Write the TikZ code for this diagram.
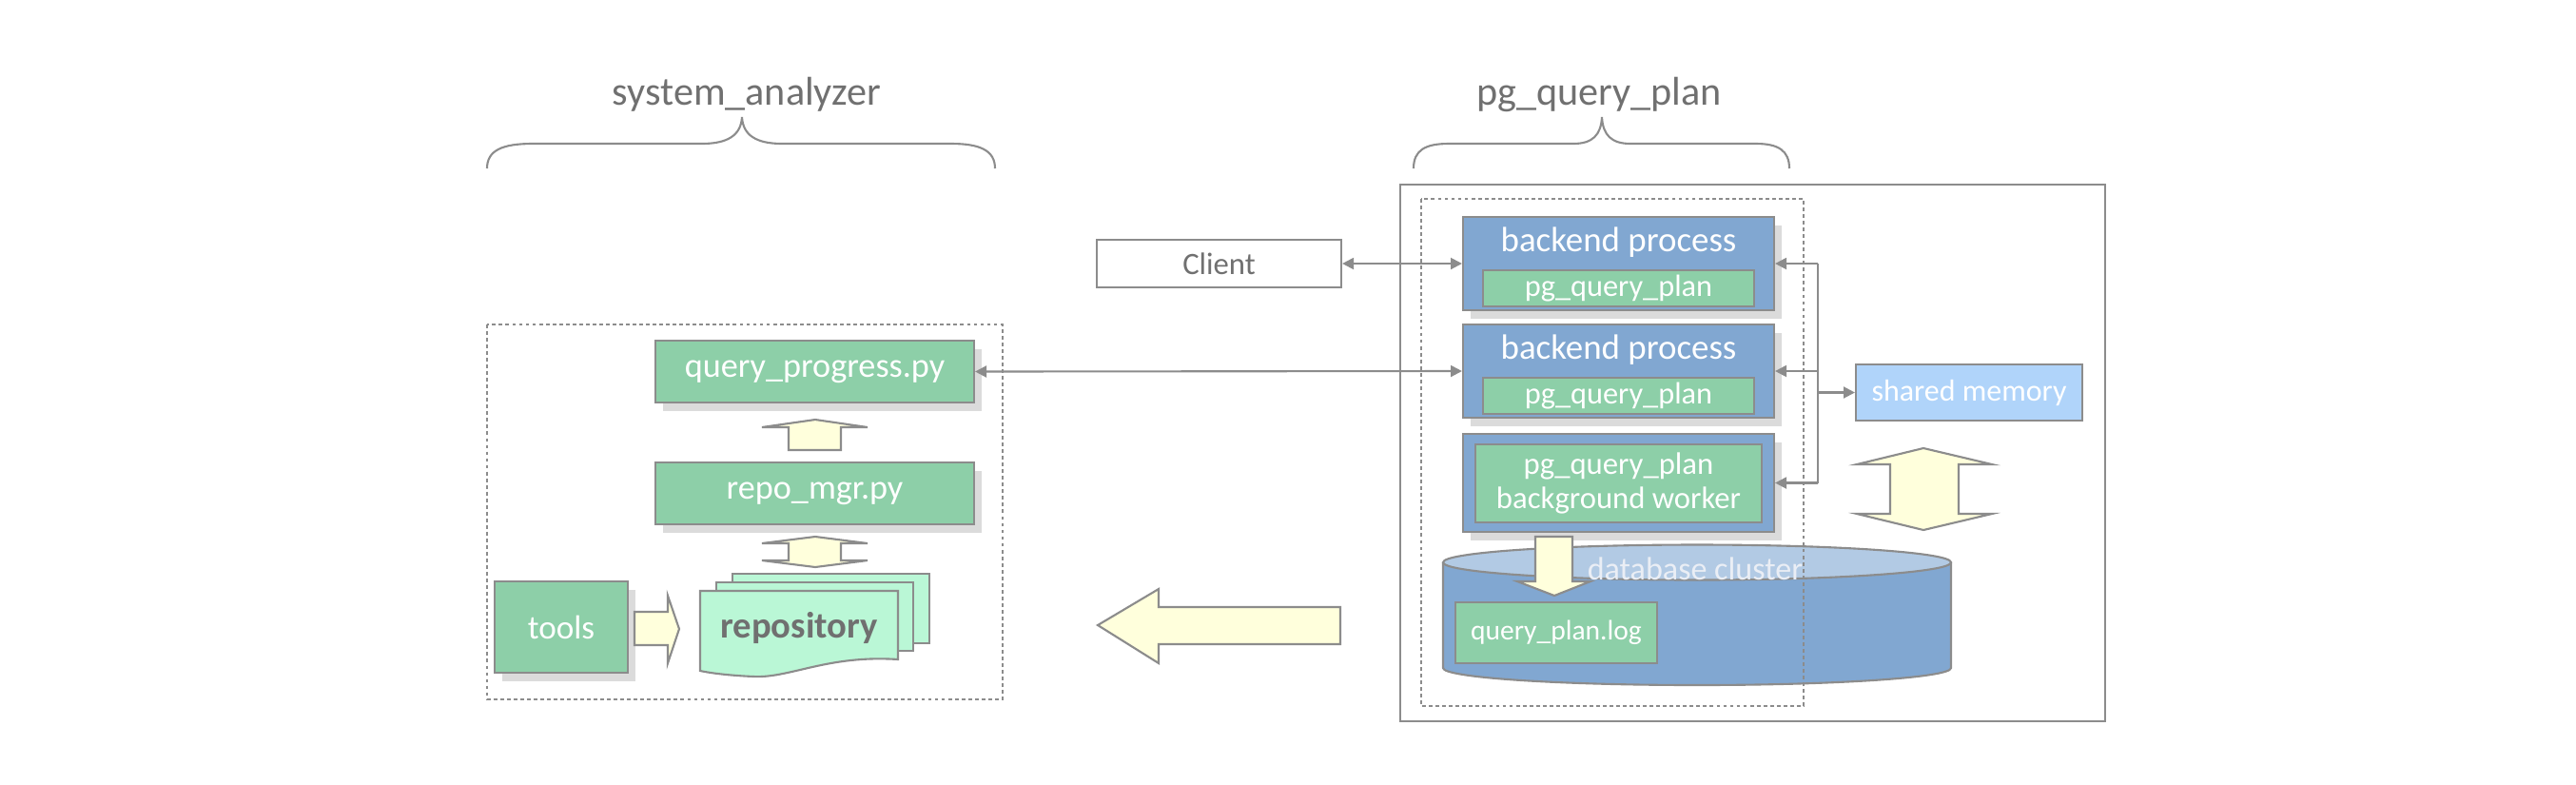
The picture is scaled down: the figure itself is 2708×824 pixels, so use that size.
\documentclass[tikz,border=0pt]{standalone}
\usepackage{fontspec}
\setmainfont{Carlito}
\usetikzlibrary{arrows.meta,shadows}

\definecolor{boxgreen}{RGB}{141,207,168}
\definecolor{repomint}{RGB}{186,247,214}
\definecolor{procblue}{RGB}{129,167,209}
\definecolor{shmblue}{RGB}{176,212,250}
\definecolor{dbtop}{RGB}{178,202,228}
\definecolor{dbtext}{RGB}{234,238,245}
\definecolor{arrowyellow}{RGB}{255,255,220}
\definecolor{linegray}{RGB}{140,140,140}
\definecolor{textgray}{RGB}{112,112,112}

\tikzset{
  greenbox/.style={draw=linegray, line width=0.6pt, fill=boxgreen, text=white, inner sep=0pt},
  procbox/.style={draw=linegray, line width=0.6pt, fill=procblue, inner sep=0pt, minimum width=32.7mm},
  shadowed/.style={drop shadow={shadow xshift=0.8mm, shadow yshift=-0.9mm, fill=black!14, opacity=1}},
  link/.style={draw=linegray, line width=0.6pt},
  blockarrow/.style={draw=linegray, line width=0.6pt, fill=arrowyellow},
  frame/.style={draw=linegray, line width=0.6pt},
  dashframe/.style={draw=linegray, line width=0.6pt, dash pattern=on 1.1pt off 0.9pt},
  curlybrace/.style={draw=linegray, line width=0.6pt},
  docsheet/.style={draw=linegray, line width=0.6pt, fill=repomint},
  title/.style={text=textgray, anchor=base, inner sep=0pt, font=\fontsize{12}{14}\selectfont},
  whitetext/.style={text=white, inner sep=0pt}
}

\begin{document}
\begin{tikzpicture}[x=0.1mm, y=-0.1mm, >={Triangle[length=3.4pt, width=3.4pt]}]
  \useasboundingbox (0,0) rectangle (2708,824);

  % Titles and braces
  \node[title] (satitle) at (785,110) {system\_analyzer};
  \node[title] (pgtitle) at (1681,110) {pg\_query\_plan};
  \draw[curlybrace] (512,177) .. controls (512,158) and (528,151) .. (560,151) -- (738,151)
    .. controls (765,151) and (779,142) .. (780,123) .. controls (781,142) and (795,151) .. (822,151)
    -- (1000,151) .. controls (1030,151) and (1046,158) .. (1046,177);
  \draw[curlybrace] (1486,177) .. controls (1486,158) and (1498,151) .. (1523,151) -- (1654,151)
    .. controls (1674,151) and (1683,142) .. (1684,123) .. controls (1685,142) and (1694,151) .. (1714,151)
    -- (1846,151) .. controls (1869,151) and (1881,158) .. (1881,177);

  % system_analyzer side
  \draw[dashframe] (512,341) rectangle (1054,735);
  \node[greenbox, shadowed, minimum width=33.5mm, minimum height=6.5mm, font=\fontsize{10.3}{12}\selectfont] (qprog) at (856.5,390.5) {query\_progress.py};
  \node[greenbox, shadowed, minimum width=33.5mm, minimum height=6.5mm, font=\fontsize{10.3}{12}\selectfont] (rmgr) at (856.5,518.5) {repo\_mgr.py};
  \node[greenbox, shadowed, minimum width=14mm, minimum height=9.6mm, font=\fontsize{10}{12}\selectfont] (tools) at (590,659) {tools};

  \draw[blockarrow] (829,473) -- (829,449) -- (801,449) -- (857,441) -- (912,449) -- (884,449) -- (884,473) -- cycle;
  \draw[blockarrow] (857,564) -- (912,571) -- (884,571) -- (884,589) -- (912,589) -- (857,596)
    -- (801,589) -- (829,589) -- (829,571) -- (801,571) -- cycle;
  \draw[blockarrow] (667,643) -- (702,643) -- (702,626) -- (714,661) -- (702,697) -- (702,678) -- (667,678) -- cycle;

  % repository stack
  \draw[docsheet] (770,603) rectangle (977,676);
  \draw[docsheet] (753,612) rectangle (960,684);
  \draw[docsheet] (736,621) -- (944,621) -- (944,693) .. controls (870,688) and (830,713) .. (792,711)
    .. controls (770,710) and (750,708) .. (736,705) -- cycle;
  \node[text=textgray, inner sep=0pt, font=\fontsize{11}{13}\selectfont\bfseries] (repo) at (840,660) {repository};

  % big arrow
  \draw[blockarrow] (1154,657) -- (1218,619) -- (1218,638) -- (1409,638) -- (1409,677) -- (1218,677) -- (1218,697) -- cycle;

  % pg_query_plan side
  \draw[frame] (1472,194) rectangle (2213,758);
  \node[draw=linegray, line width=0.6pt, fill=white, text=textgray, inner sep=0pt,
    minimum width=25.7mm, minimum height=5mm, font=\fontsize{9.3}{11}\selectfont] (client) at (1281.5,277) {Client};

  \node[procbox, shadowed, minimum height=9.8mm] (be1) at (1701.5,277) {};
  \node[whitetext, font=\fontsize{10.5}{12}\selectfont] (be1text) at (1701.5,255) {backend process};
  \node[greenbox, minimum width=28.5mm, minimum height=3.8mm, font=\fontsize{9.2}{11}\selectfont] (pg1) at (1701.5,303) {pg\_query\_plan};

  \node[procbox, shadowed, minimum height=9.8mm] (be2) at (1701.5,390) {};
  \node[whitetext, font=\fontsize{10.5}{12}\selectfont] (be2text) at (1701.5,368) {backend process};
  \node[greenbox, minimum width=28.5mm, minimum height=3.8mm, font=\fontsize{9.2}{11}\selectfont] (pg2) at (1701.5,416) {pg\_query\_plan};

  \node[procbox, shadowed, minimum height=10.3mm] (bgw) at (1701.5,507.5) {};
  \node[greenbox, minimum width=30.1mm, minimum height=8.2mm, align=center, font=\fontsize{9.3}{10}\selectfont] (pgbgw) at (1701.5,508) {pg\_query\_plan\\background worker};

  \node[draw=linegray, line width=0.6pt, fill=shmblue, text=white, inner sep=0pt,
    minimum width=23.8mm, minimum height=5.9mm, font=\fontsize{9.1}{11}\selectfont] (shm) at (2070,412.5) {shared memory};
  \draw[blockarrow] (2022,471) -- (2094,488) -- (2059,488) -- (2059,540) -- (2094,540) -- (2022,557)
    -- (1952,540) -- (1987,540) -- (1987,488) -- (1952,488) -- cycle;

  % database cluster
  \draw[frame, fill=procblue] (1517,591) -- (1517,702) arc[start angle=180, end angle=0, x radius=267, y radius=18] -- (2051,591);
  \draw[frame, fill=dbtop] (1784,591) ellipse[x radius=267, y radius=18.5];
  \draw[blockarrow] (1614,564) -- (1653,564) -- (1653,611) -- (1672,611) -- (1634,626) -- (1595,611) -- (1614,611) -- cycle;
  \node[text=dbtext, inner sep=0pt, font=\fontsize{9.7}{11}\selectfont] (dbtitle) at (1782,598) {database cluster};
  \node[greenbox, minimum width=21.2mm, minimum height=6.4mm, font=\fontsize{8.4}{10}\selectfont] (qlog) at (1636,665) {query\_plan.log};

  \draw[dashframe] (1494,209) rectangle (1896,742);

  % connectors
  \draw[link, <->] (client.east) -- (be1.west);
  \draw[link, <->] (qprog.east) -- (be2.west);
  \coordinate (bus) at (1911,412.5);
  \draw[link] (bus |- be1.east) -- (bus |- bgw.east);
  \draw[link, ->] (bus |- be1.east) -- (be1.east);
  \draw[link, ->] (bus |- be2.east) -- (be2.east);
  \draw[link, ->] (bus |- bgw.east) -- (bgw.east);
  \draw[link, ->] (bus) -- (shm.west);
\end{tikzpicture}
\end{document}
